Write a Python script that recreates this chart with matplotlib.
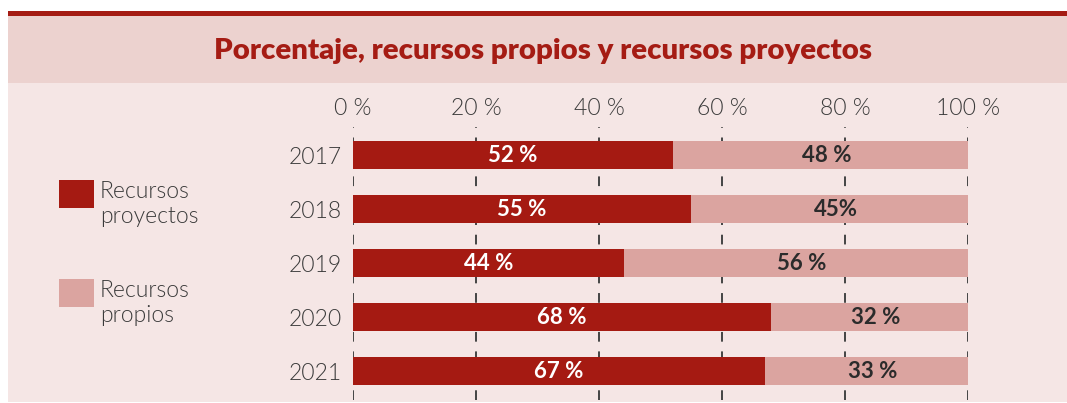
import matplotlib.pyplot as plt
from matplotlib.patches import Rectangle

# data
years = ["2017", "2018", "2019", "2020", "2021"]
proyectos = [52, 55, 44, 68, 67]
propios = [48, 45, 56, 32, 33]
lbl_proyectos = ["52 %", "55 %", "44 %", "68 %", "67 %"]
lbl_propios = ["48 %", "45%", "56 %", "32 %", "33 %"]
ticks = [0, 20, 40, 60, 80, 100]
tick_labels = ["0 %", "20 %", "40 %", "60 %", "80 %", "100 %"]
series = ["Recursos\nproyectos", "Recursos\npropios"]
title = "Porcentaje, recursos propios y recursos proyectos"

dark = "#a51a12"
light = "#dba4a0"
txt = "#3a3a3a"
lw_font = 300

plt.rcParams['font.family'] = ['Lato', 'DejaVu Sans']

W, H = 1067, 403
fig = plt.figure(figsize=(W / 100, H / 100), dpi=100)
fig.patch.set_facecolor("white")

def px(x0, y0, w, h):
    # pixel box (top-left origin) -> figure fraction
    return [x0 / W, 1 - (y0 + h) / H, w / W, h / H]

# backgrounds
for box, c in [((8, 83, W - 8, 319), "#f5e6e5"),
               ((8, 16, W - 8, 67), "#ecd2cf"),
               ((8, 11, W - 8, 5), "#a51c14")]:
    b = px(*box)
    fig.patches.append(Rectangle((b[0], b[1]), b[2], b[3], transform=fig.transFigure,
                                 facecolor=c, edgecolor="none", zorder=-5))

fig.text(543 / W, 1 - 51 / H, title, ha="center", va="center", fontsize=21.2,
         fontweight="heavy", color="#a51c14")

# main axes
ax = fig.add_axes(px(353, 127, 615, 273))
ax.set_zorder(5)
ax.set_facecolor("none")
pos = list(range(len(years)))
ax.barh(pos, proyectos, height=0.52, color=dark, zorder=2)
ax.barh(pos, propios, left=proyectos, height=0.52, color=light, zorder=2)
ax.set_xlim(0, 100)
ax.set_ylim(4.537, -0.519)

for i in pos:
    ax.text(proyectos[i] / 2, i, lbl_proyectos[i], ha="center", va="center",
            color="white", fontsize=16, fontweight="bold", zorder=3)
    ax.text(proyectos[i] + propios[i] / 2 + 1, i, lbl_propios[i], ha="center", va="center",
            color="#2b2b2b", fontsize=16, fontweight="bold", zorder=3)

for t in ticks:
    ax.axvline(t, color="#444444", lw=1.4, ls=(0, (5, 5)), zorder=1)

ax.set_xticks(ticks)
ax.set_xticklabels(tick_labels, fontsize=16.5, fontweight=lw_font, color=txt)
ax.xaxis.tick_top()
ax.tick_params(axis="x", length=0, pad=6)
ax.set_yticks(pos)
ax.set_yticklabels(years, fontsize=16.5, fontweight=lw_font, color=txt)
ax.tick_params(axis="y", length=0, pad=8)
for s in ax.spines.values():
    s.set_visible(False)

# legend
for k, (name, c) in enumerate(zip(series, [dark, light])):
    y0 = 180 + k * 99
    b = px(59, y0, 35, 28)
    fig.patches.append(Rectangle((b[0], b[1]), b[2], b[3], transform=fig.transFigure,
                                 facecolor=c, edgecolor="none", zorder=2))
    fig.text(100 / W, 1 - (y0 + 1) / H, name, ha="left", va="top", fontsize=16.5,
             fontweight=lw_font, color=txt, linespacing=1.25)

fig.savefig("out.png", dpi=100)
